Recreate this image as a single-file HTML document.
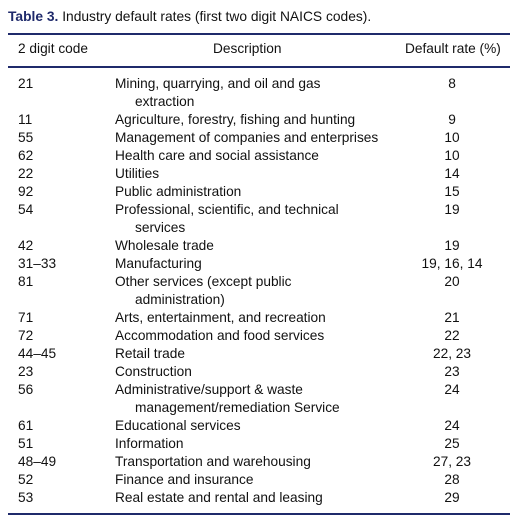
<!DOCTYPE html>
<html><head><meta charset="utf-8"><style>
body{margin:0;width:525px;height:523px;background:#fff;font-family:"Liberation Sans",sans-serif;color:#111;position:relative;overflow:hidden}
.t{position:absolute;font-size:13.7px;line-height:18px;white-space:nowrap}
.rule{position:absolute;left:8px;width:502px;height:2px;background:#1f2a6b}
.c{left:18px}.d{left:115px}.d2{left:135px}.r{left:400px;width:104px;text-align:center}
</style></head><body>
<div class="t" style="left:8px;top:8px;font-size:13.8px"><b style="color:#1f2a6b">Table 3.</b> Industry default rates (first two digit NAICS codes).</div>
<div class="rule" style="top:33px"></div>
<div class="t c" style="top:40px">2 digit code</div>
<div class="t" style="left:213px;top:40px">Description</div>
<div class="t" style="left:405px;top:40px">Default rate (%)</div>
<div class="rule" style="top:66px"></div>
<div id="rows"></div>
<div class="rule" style="top:513px"></div>
<script>
const codes=["21","11","55","62","22","92","54","42","31–33","81","71","72","44–45","23","56","61","51","48–49","52","53"];
const descs=[["Mining, quarrying, and oil and gas","extraction"],["Agriculture, forestry, fishing and hunting"],["Management of companies and enterprises"],["Health care and social assistance"],["Utilities"],["Public administration"],["Professional, scientific, and technical","services"],["Wholesale trade"],["Manufacturing"],["Other services (except public","administration)"],["Arts, entertainment, and recreation"],["Accommodation and food services"],["Retail trade"],["Construction"],["Administrative/support & waste","management/remediation Service"],["Educational services"],["Information"],["Transportation and warehousing"],["Finance and insurance"],["Real estate and rental and leasing"]];
const rates=["8","9","10","10","14","15","19","19","19, 16, 14","20","21","22","22, 23","23","24","24","25","27, 23","28","29"];
const host=document.getElementById('rows');
let y=75;
function add(cls,text,top,name){const e=document.createElement('div');e.className='t '+cls;e.textContent=text;e.style.top=top+'px';


host.appendChild(e);}
codes.forEach((c,i)=>{
add('c',c,y,'code-'+c);
descs[i].forEach((s,j)=>add(j?'d2':'d',s,y+18*j,'description-'+c));
add('r',rates[i],y,'rate-'+c);
y+=18*descs[i].length;
});
</script>
</body></html>
